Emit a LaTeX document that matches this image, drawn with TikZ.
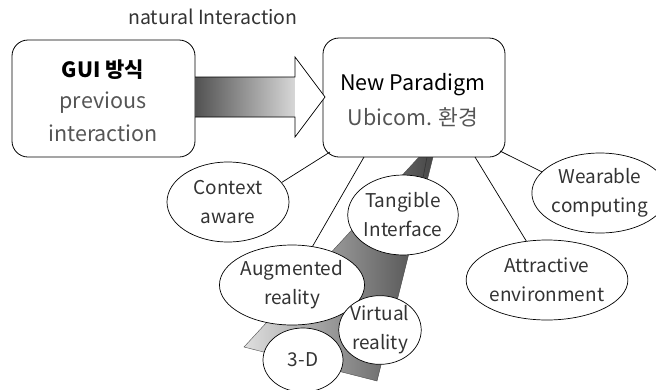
\documentclass[tikz,border=0pt]{standalone}
\usepackage{fontspec}
\setmainfont{Noto Sans CJK KR}
\usetikzlibrary{shapes.geometric}
\definecolor{txtgray}{HTML}{555555}
\definecolor{elltxt}{HTML}{333333}
\begin{document}
\begin{tikzpicture}[x=1pt,y=-1pt,
  rbox/.style={draw=black,line width=0.8pt,rounded corners=16pt,fill=white,inner sep=0pt},
  ell/.style={draw=black,line width=0.7pt,ellipse,fill=white,inner sep=0pt,align=center,
    text=elltxt,font=\fontsize{19}{29}\selectfont},
  link/.style={draw=black,line width=0.7pt}]
\useasboundingbox (0,0) rectangle (656,389);
\fill[white] (0,0) rectangle (656,389);

% ribbon
\coordinate (r1) at (419,157);
\coordinate (r2) at (433,157);
\coordinate (r3) at (377,381);
\coordinate (r4) at (244,347);
\shade[left color=gray!25, right color=black!72] (r1) -- (r2) -- (r3) -- (r4) -- cycle;
\draw[black!70,line width=0.4pt] (r1) -- (r2) -- (r3) -- (r4) -- cycle;
\draw[black!80,line width=0.6pt] (427,157) -- (423,178);

% boxes
\node[rbox,minimum width=183pt,minimum height=117pt] (gui) at (103.5,98.5) {};
\node[text=black,font=\fontsize{21}{21}\selectfont] (guit) at (103,70) {\textbf{GUI 방식}};
\node[text=txtgray,font=\fontsize{21.5}{33}\selectfont,align=center] (guip) at (103,117) {previous\\interaction};

\node[rbox,minimum width=182pt,minimum height=119pt] (np) at (414,97.5) {};
\node[text=black,font=\fontsize{21.5}{21.5}\selectfont] (npt) at (413,85) {New Paradigm};
\node[text=txtgray,font=\fontsize{21.5}{21.5}\selectfont] (npu) at (413,117) {Ubicom. 환경};

\node[text=elltxt,font=\fontsize{19.5}{19.5}\selectfont] (nat) at (213,17) {natural Interaction};

% arrow
\coordinate (a1) at (195,77);
\coordinate (a2) at (295,77);
\coordinate (a3) at (295,57);
\coordinate (a4) at (325,97);
\coordinate (a5) at (295,137);
\coordinate (a6) at (295,117);
\coordinate (a7) at (195,117);
\shade[left color=black!68, right color=white] (a1) -- (a2) -- (a3) -- (a4) -- (a5) -- (a6) -- (a7) -- cycle;
\fill[white] (a2) -- (a3) -- (a4) -- (a5) -- (a6) -- cycle;
\draw[black,line width=0.7pt] (a1) -- (a2) -- (a3) -- (a4) -- (a5) -- (a6) -- (a7);

% ellipses
\node[ell,minimum width=122pt,minimum height=80pt] (ctx) at (228,202) {Context\\aware};
\node[ell,minimum width=114pt,minimum height=80pt] (wear) at (600,193) {Wearable\\computing};
\node[ell,minimum width=121pt,minimum height=80pt] (attr) at (547,280) {Attractive\\environment};
\node[ell,minimum width=120pt,minimum height=80pt] (aug) at (292,285) {Augmented\\reality};
\node[ell,minimum width=80pt,minimum height=64pt] (threed) at (303,360) {3-D};
\node[ell,minimum width=80pt,minimum height=66pt] (virt) at (380,330) {Virtual\\reality};
\node[ell,minimum width=92pt,minimum height=80pt] (tang) at (403,215) {Tangible\\Interface};

% connectors
\draw[link] (330,152) -- (ctx.20);
\draw[link] (364,157) -- (aug.62);
\draw[link] (475,157) -- (attr.118);
\draw[link] (500,151) -- (wear.160);
\end{tikzpicture}
\end{document}
